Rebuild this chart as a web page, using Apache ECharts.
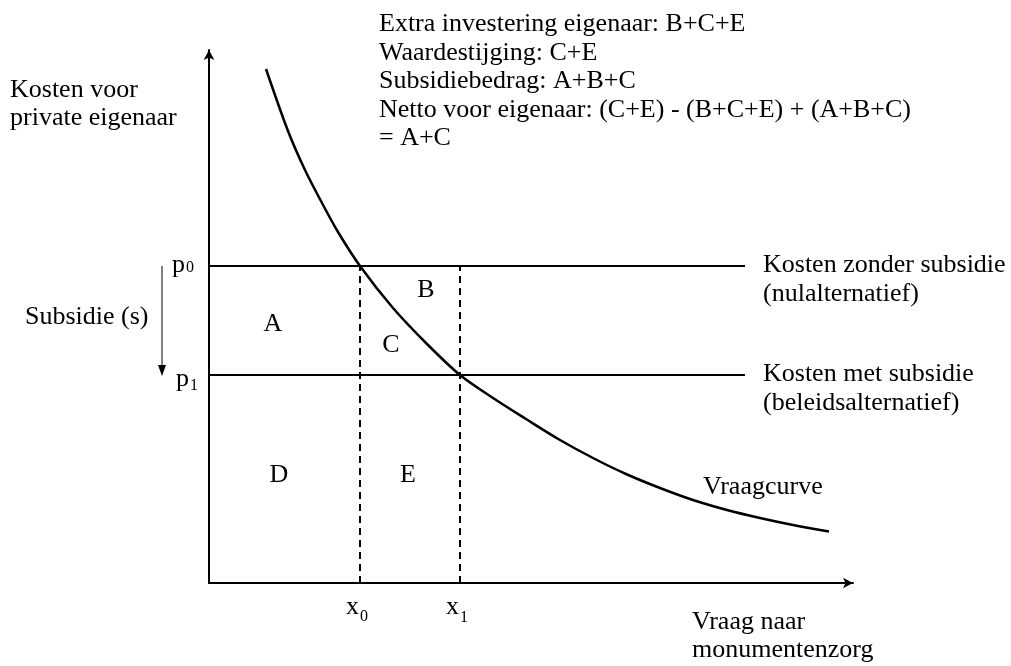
<!DOCTYPE html>
<html lang="nl">
<head>
<meta charset="UTF-8">
<title>Vraagcurve monumentenzorg</title>
<script src="https://cdn.jsdelivr.net/npm/echarts@6/dist/echarts.min.js"></script>
<style>
    html, body { margin: 0; padding: 0; background: #fff; }
    #main { width: 1011px; height: 666px; }
</style>
</head>
<body>
<div id="main"></div>
<script>
    // vraagcurve
    var curveX = [57, 79, 96, 113, 129, 151, 184, 218, 251, 284, 317, 351, 384, 417, 451, 484, 518, 551, 584, 620];
    var curveY = [514, 452, 413, 380, 351, 317, 275, 239, 208, 185, 164, 143, 125, 109, 95, 83, 73, 65, 58, 51.5];
    var priceLevels = [317, 208];      // p0, p1
    var priceSubs = ['0', '1'];
    var quantityLevels = [151, 251];   // x0, x1
    var quantitySubs = ['0', '1'];
    var levelEnd = 536;
    var areaNames = ['A', 'B', 'C', 'D', 'E'];
    var areaX = [64, 217, 182, 70, 199];
    var areaY = [259, 293, 238, 108, 108];
    var xMax = 644, yMax = 533;

    var FONT = '"Liberation Serif", "Times New Roman", serif';
    var chart = echarts.init(document.getElementById('main'));

    var series = [];
    series.push({
        type: 'line', smooth: 0.3, symbol: 'none', silent: true,
        data: curveX.map(function (x, i) { return [x, curveY[i]]; }),
        lineStyle: { color: '#000', width: 2.5 }
    });
    priceLevels.forEach(function (p) {
        series.push({
            type: 'line', symbol: 'none', silent: true,
            data: [[0, p], [levelEnd, p]],
            lineStyle: { color: '#000', width: 2 }
        });
    });
    quantityLevels.forEach(function (q) {
        series.push({
            type: 'line', symbol: 'none', silent: true,
            data: [[q, 0], [q, priceLevels[0]]],
            lineStyle: { color: '#000', width: 2, type: [7, 5] }
        });
    });
    series.push({
        type: 'scatter', symbolSize: 0, silent: true,
        itemStyle: { opacity: 1 },
        data: areaNames.map(function (n, i) { return { name: n, value: [areaX[i], areaY[i]] }; }),
        label: {
            show: true, position: 'inside', formatter: '{b}',
            color: '#000', fontFamily: FONT, fontSize: 26
        }
    });

    chart.setOption({
        animation: false,
        grid: { left: 209, top: 50, width: xMax, height: yMax },
        xAxis: {
            type: 'value', min: 0, max: xMax,
            axisLine: { show: true, onZero: false, symbol: ['none', 'arrow'], symbolSize: [8, 10],
                lineStyle: { color: '#000', width: 2 } },
            axisTick: { show: false }, axisLabel: { show: false }, splitLine: { show: false }
        },
        yAxis: {
            type: 'value', min: 0, max: yMax,
            axisLine: { show: true, onZero: false, symbol: ['none', 'arrow'], symbolSize: [8, 10],
                lineStyle: { color: '#000', width: 2 } },
            axisTick: { show: false }, axisLabel: { show: false }, splitLine: { show: false }
        },
        series: series
    });

    function txt(str, x, y, size, va, lh) {
        return {
            type: 'text', silent: true,
            style: {
                text: str, x: x, y: y, fill: '#000',
                font: size + 'px ' + FONT,
                textAlign: 'left', textVerticalAlign: va || 'middle',
                lineHeight: lh || undefined
            }
        };
    }

    var g = [];
    // p0 / p1
    priceLevels.forEach(function (p, i) {
        var py = chart.convertToPixel({ gridIndex: 0 }, [0, p])[1];
        var off = i === 0 ? [172, -1, 186, 2] : [176, 4, 190, 11];
        g.push(txt('p', off[0], py + off[1], 26));
        g.push(txt(priceSubs[i], off[2], py + off[3], 16));
    });
    // x0 / x1
    quantityLevels.forEach(function (q, i) {
        var px = chart.convertToPixel({ gridIndex: 0 }, [q, 0])[0];
        g.push(txt('x', px - 14, 607, 26));
        g.push(txt(quantitySubs[i], px, i === 0 ? 617 : 618, 16));
    });

    // subsidie-pijl
    var a0 = chart.convertToPixel({ gridIndex: 0 }, [-47, priceLevels[0]]);
    var a1 = chart.convertToPixel({ gridIndex: 0 }, [-47, priceLevels[1]]);
    g.push({ type: 'line', silent: true,
        shape: { x1: a0[0], y1: a0[1], x2: a1[0], y2: a1[1] - 8 },
        style: { stroke: '#000', lineWidth: 1 } });
    g.push({ type: 'polygon', silent: true,
        shape: { points: [[a1[0] - 4, a1[1] - 10], [a1[0] + 4, a1[1] - 10], [a1[0], a1[1] + 1]] },
        style: { fill: '#000' } });

    g.push(txt('Extra investering eigenaar: B+C+E\nWaardestijging: C+E\nSubsidiebedrag: A+B+C\nNetto voor eigenaar: (C+E) - (B+C+E) + (A+B+C)\n= A+C',
        379, 10, 26, 'top', 28.5));
    g.push(txt('Kosten voor\nprivate eigenaar', 10, 76, 26, 'top', 28));
    g.push(txt('Subsidie (s)', 25, 317, 26));
    g.push(txt('Kosten zonder subsidie\n(nulalternatief)', 763, 251, 26, 'top', 29));
    g.push(txt('Kosten met subsidie\n(beleidsalternatief)', 763, 360, 26, 'top', 29));
    g.push(txt('Vraagcurve', 703, 487, 26));
    g.push(txt('Vraag naar\nmonumentenzorg', 692, 608, 26, 'top', 28));

    chart.setOption({ graphic: g });
</script>
</body>
</html>
